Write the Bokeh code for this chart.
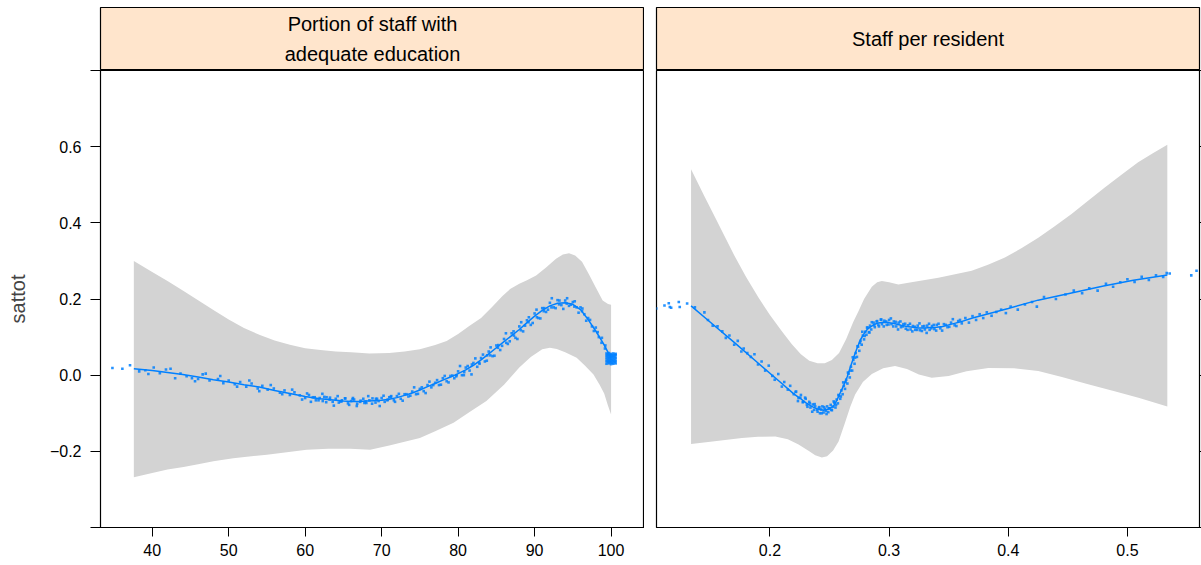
from bokeh.plotting import figure
from bokeh.models import Range1d, FixedTicker, ColumnDataSource, LinearAxis
from bokeh.layouts import column, row
from bokeh.embed import file_html
from bokeh.resources import INLINE
from bokeh.core.properties import value

FONT = "Liberation Sans"
BLUE = "#0080FF"
BAND = "#D3D3D3"
STRIP = "#FFE5CC"

strip_labels = ["Portion of staff with\nadequate education", "Staff per resident"]
y_label = "sattot"
y_ticks = [-0.4, -0.2, 0.0, 0.2, 0.4, 0.6, 0.8]
y_tick_labels = ["", "\u22120.2", "0.0", "0.2", "0.4", "0.6", ""]
x_ticks_edu = [40, 50, 60, 70, 80, 90, 100]
x_ticks_staff = [0.2, 0.3, 0.4, 0.5]

# ---- panel 1: portion of staff with adequate education ----
edu_fit_x = [37.6, 40, 42, 44, 46, 48, 50, 52, 54, 56, 58, 60, 61, 62, 63, 64, 65, 66, 67, 68, 69,
             70, 71, 72, 73, 74, 75, 76, 77, 78, 79, 80, 81, 82, 83, 84, 85, 86, 87, 88, 89, 90,
             91, 92, 93, 94, 95, 96, 97, 98, 99, 100]
edu_fit_y = [0.017, 0.012, 0.007, 0.002, -0.005, -0.012, -0.018, -0.025, -0.031, -0.040, -0.048,
             -0.056, -0.059, -0.062, -0.064, -0.066, -0.068, -0.069, -0.069, -0.068, -0.067,
             -0.066, -0.063, -0.059, -0.053, -0.047, -0.039, -0.030, -0.022, -0.013, -0.005,
             0.004, 0.014, 0.026, 0.040, 0.056, 0.072, 0.088, 0.104, 0.120, 0.138, 0.155, 0.170,
             0.182, 0.189, 0.190, 0.186, 0.172, 0.146, 0.116, 0.083, 0.045]
edu_upper_x = [37.6, 40, 42, 44, 46, 48, 50, 52, 54, 56, 58, 60, 62, 64, 66, 68.4, 71, 73, 75,
               77, 78.5, 80, 81.5, 83, 84.5, 85.8, 86.8, 88, 89, 90.2, 91.5, 92.8, 93.7, 94.5,
               95.3, 96.2, 97.1, 98, 98.9, 99.6, 100]
edu_upper_y = [0.300, 0.271, 0.247, 0.222, 0.197, 0.171, 0.146, 0.124, 0.106, 0.091, 0.080,
               0.071, 0.066, 0.062, 0.060, 0.057, 0.058, 0.062, 0.068, 0.079, 0.090, 0.108,
               0.130, 0.150, 0.180, 0.208, 0.226, 0.240, 0.249, 0.262, 0.283, 0.306, 0.317,
               0.320, 0.314, 0.298, 0.265, 0.230, 0.196, 0.187, 0.185]
edu_lower_x = [37.6, 40, 42, 44.1, 46, 48, 50.6, 55, 60.2, 63, 65.9, 68.5, 71, 73, 75, 77, 79.4,
               81.5, 83.7, 86, 88, 89.5, 91, 92, 92.9, 94, 95.5, 96.6, 97.7, 98.5, 99.1, 99.6, 100]
edu_lower_y = [-0.268, -0.257, -0.248, -0.241, -0.234, -0.226, -0.218, -0.209, -0.196, -0.193,
               -0.193, -0.196, -0.185, -0.175, -0.165, -0.147, -0.125, -0.097, -0.068, -0.025,
               0.020, 0.048, 0.068, 0.072, 0.069, 0.060, 0.046, 0.025, 0.002, -0.025, -0.048,
               -0.080, -0.103]
edu_pts_x = [34.8, 36.1, 37.1,
             38.3, 39.1, 40.2, 41.0, 41.8, 43.0, 43.7, 44.5, 45.2, 46.0, 46.6, 47.5, 48.6, 49.3,
             50.0, 50.8, 51.5, 52.3, 53.0, 53.8, 54.4, 55.1, 55.9, 56.7, 57.3, 58.0, 58.6, 59.3,
             39.5, 42.4, 45.6, 47.0, 48.9, 51.1, 52.7, 54.0, 55.5, 57.0, 58.3, 59.6,
             60.0, 60.5, 61.0, 61.4, 61.9, 62.3, 62.8, 63.2, 63.6, 64.0, 64.4, 64.8, 65.2, 65.6,
             66.0, 66.4, 66.8, 67.2, 67.6, 68.0, 68.4, 68.8, 69.2, 69.6, 70.0, 70.4, 70.8, 71.2,
             71.6, 72.0, 72.5, 73.0, 73.5, 74.0, 74.5, 75.0, 75.5, 76.0,
             76.5, 77.0, 77.5, 78.0, 78.5, 79.0, 79.5, 80.0, 80.5, 81.0, 81.5, 82.0, 82.5, 83.0,
             83.5, 84.0, 84.5, 85.0, 85.5, 86.0, 86.5, 87.0, 87.5, 88.0, 88.5, 89.0, 89.5, 90.0,
             90.5, 91.0, 91.5, 92.0, 92.5, 93.0, 93.5, 94.0, 94.5, 95.0, 95.5, 96.0, 96.5, 97.0,
             97.5, 98.0, 98.4, 98.8, 99.2,
             84.2, 85.2, 86.3, 87.3, 88.2, 89.2, 90.3, 91.2, 92.2, 93.2, 94.2, 95.2, 96.2,
             79.8, 80.8, 81.8, 82.8, 83.8, 62.5, 64.6, 66.2, 67.9, 69.4, 71.0,
             60.25, 60.75, 61.25, 61.75, 62.25, 62.75, 63.25, 63.75, 64.25, 64.75, 65.25, 65.75,
             66.25, 66.75, 67.25, 67.75, 68.25, 68.75, 69.25, 69.75, 70.25, 70.75, 71.25, 71.75,
             72.25, 72.75, 73.25, 73.75, 74.25, 74.75, 75.25, 75.75, 76.25, 76.75, 77.25, 77.75,
             78.25, 78.75, 79.25, 79.75, 80.25, 80.75, 81.25, 81.75, 82.25, 82.75, 83.25, 83.75,
             84.25, 84.75, 85.25, 85.75, 86.25, 86.75, 87.25, 87.75, 88.25, 88.75, 89.25, 89.75,
             90.25, 90.75, 91.25, 91.75, 92.25, 92.75, 93.25, 93.75, 94.25, 94.75, 95.25, 95.75,
             96.25, 96.75, 97.25, 97.75, 98.25, 98.75, 99.25, 99.6,
             99.4, 99.4, 99.4, 99.4, 99.4, 99.7, 99.7, 99.7, 99.7, 99.7, 100.0, 100.0, 100.0,
             100.0, 100.0, 100.3, 100.3, 100.3, 100.3, 100.3, 100.6, 100.6, 100.6, 100.6, 100.6,
             99.55, 99.55, 99.55, 99.55, 99.85, 99.85, 99.85, 99.85, 100.15, 100.15, 100.15,
             100.15, 100.45, 100.45, 100.45, 100.45]
edu_pts_y = [0.019, 0.017, 0.026,
             0.010, 0.013, 0.020, 0.005, 0.015, -0.008, 0.004, -0.003, -0.008, -0.010, 0.002,
             -0.014, -0.010, -0.021, -0.014, -0.024, -0.018, -0.030, -0.022, -0.035, -0.028,
             -0.038, -0.035, -0.046, -0.040, -0.052, -0.045, -0.053,
             0.003, 0.017, -0.016, 0.004, -0.002, -0.030, -0.014, -0.042, -0.026, -0.050, -0.038,
             -0.064,
             -0.060, -0.052, -0.058, -0.066, -0.060, -0.068, -0.058, -0.064, -0.070, -0.062,
             -0.072, -0.066, -0.061, -0.074, -0.068, -0.064, -0.075, -0.070, -0.062, -0.073,
             -0.066, -0.061, -0.072, -0.068, -0.060, -0.070, -0.064, -0.057, -0.066, -0.055,
             -0.062, -0.050, -0.056, -0.043, -0.050, -0.036, -0.042, -0.026,
             -0.032, -0.020, -0.026, -0.008, -0.016, -0.002, -0.008, 0.010, 0.000, 0.020, 0.012,
             0.032, 0.022, 0.045, 0.036, 0.062, 0.050, 0.078, 0.066, 0.095, 0.082, 0.110, 0.098,
             0.128, 0.115, 0.144, 0.132, 0.162, 0.150, 0.176, 0.166, 0.190, 0.178, 0.197, 0.184,
             0.196, 0.182, 0.192, 0.178, 0.178, 0.160, 0.150, 0.128, 0.125, 0.100, 0.098, 0.070,
             0.052, 0.072, 0.085, 0.104, 0.118, 0.139, 0.152, 0.168, 0.178, 0.186, 0.188, 0.180,
             0.168,
             0.000, 0.008, 0.028, 0.030, 0.052, -0.057, -0.069, -0.063, -0.069, -0.062, -0.058,
             -0.048, -0.070, -0.058, -0.066, -0.049, -0.071, -0.059, -0.080, -0.055, -0.069,
             -0.061, -0.078, -0.060, -0.081, -0.067, -0.073, -0.055, -0.075, -0.062, -0.081,
             -0.054, -0.066, -0.055, -0.070, -0.049, -0.067, -0.050, -0.054, -0.032, -0.049,
             -0.032, -0.047, -0.017, -0.026, -0.013, -0.025, -0.002, -0.019, -0.001, -0.003,
             0.024, 0.000, 0.024, 0.002, 0.044, 0.033, 0.054, 0.038, 0.073, 0.051, 0.079, 0.077,
             0.110, 0.089, 0.115, 0.095, 0.139, 0.130, 0.152, 0.137, 0.172, 0.149, 0.176, 0.172,
             0.202, 0.176, 0.196, 0.174, 0.202, 0.185, 0.194, 0.164, 0.175, 0.143, 0.145, 0.116,
             0.113, 0.085, 0.078, 0.056,
             0.030, 0.037, 0.044, 0.051, 0.057, 0.031, 0.038, 0.045, 0.052, 0.058, 0.029, 0.036,
             0.043, 0.050, 0.056, 0.030, 0.037, 0.044, 0.051, 0.057, 0.031, 0.038, 0.045, 0.052,
             0.056,
             0.034, 0.041, 0.048, 0.054, 0.034, 0.041, 0.048, 0.054, 0.033, 0.040, 0.047,
             0.053, 0.034, 0.041, 0.048, 0.054]

# ---- panel 2: staff per resident ----
staff_fit_x = [0.1338, 0.15, 0.17, 0.19, 0.21, 0.22, 0.225, 0.23, 0.235, 0.24, 0.245, 0.25,
               0.2536, 0.256, 0.2592, 0.262, 0.2648, 0.2676, 0.2704, 0.273, 0.276, 0.279, 0.2816,
               0.2845, 0.2872, 0.291, 0.295, 0.30, 0.305, 0.31, 0.315, 0.32, 0.325, 0.33, 0.335,
               0.34, 0.345, 0.35, 0.355, 0.36, 0.37, 0.40, 0.425, 0.455, 0.48, 0.505, 0.5335]
staff_fit_y = [0.182, 0.139, 0.086, 0.032, -0.022, -0.049, -0.060, -0.072, -0.082, -0.089,
               -0.092, -0.088, -0.080, -0.067, -0.045, -0.026, -0.005, 0.022, 0.048, 0.070, 0.093,
               0.109, 0.120, 0.127, 0.133, 0.137, 0.139, 0.138, 0.135, 0.131, 0.128, 0.126, 0.124,
               0.124, 0.125, 0.126, 0.128, 0.132, 0.136, 0.140, 0.150, 0.175, 0.197, 0.217, 0.234,
               0.249, 0.263]
staff_upper_x = [0.1338, 0.145, 0.155, 0.1626, 0.170, 0.180, 0.1905, 0.200, 0.210, 0.2184, 0.226,
                 0.233, 0.240, 0.246, 0.252, 0.258, 0.264, 0.270, 0.2743, 0.279, 0.2855, 0.290,
                 0.2939, 0.300, 0.3078, 0.315, 0.3414, 0.3693, 0.383, 0.3972, 0.411, 0.4252,
                 0.439, 0.4531, 0.467, 0.481, 0.495, 0.509, 0.521, 0.5335]
staff_upper_y = [0.541, 0.470, 0.408, 0.361, 0.315, 0.258, 0.203, 0.158, 0.115, 0.081, 0.055,
                 0.038, 0.031, 0.031, 0.040, 0.058, 0.095, 0.140, 0.168, 0.200, 0.232, 0.244,
                 0.247, 0.244, 0.238, 0.242, 0.256, 0.274, 0.290, 0.309, 0.333, 0.361, 0.391,
                 0.423, 0.458, 0.493, 0.526, 0.559, 0.582, 0.605]
staff_lower_x = [0.1338, 0.150, 0.1765, 0.190, 0.2045, 0.215, 0.224, 0.233, 0.238, 0.2436, 0.248,
                 0.253, 0.2576, 0.263, 0.2675, 0.2715, 0.278, 0.2855, 0.295, 0.305, 0.315, 0.325,
                 0.3358, 0.350, 0.365, 0.3833, 0.405, 0.4252, 0.445, 0.467, 0.490, 0.510, 0.5335]
staff_lower_y = [-0.181, -0.175, -0.165, -0.162, -0.161, -0.168, -0.182, -0.200, -0.210, -0.216,
                 -0.213, -0.198, -0.174, -0.125, -0.082, -0.051, -0.018, 0.003, 0.018, 0.024,
                 0.016, 0.002, -0.007, -0.002, 0.010, 0.019, 0.018, 0.011, -0.005, -0.024,
                 -0.043, -0.060, -0.082]
staff_pts_x = [0.1046, 0.1115, 0.1151, 0.1160, 0.1171, 0.1235, 0.1243, 0.1305,
               0.137, 0.145, 0.148, 0.152, 0.156, 0.160, 0.163, 0.166, 0.170, 0.173, 0.176, 0.178,
               0.181, 0.184, 0.187, 0.190, 0.193, 0.196, 0.199, 0.202, 0.204, 0.207, 0.210, 0.212,
               0.215, 0.217, 0.220,
               0.222, 0.224, 0.226, 0.228, 0.230, 0.231, 0.233, 0.234, 0.236, 0.237, 0.238, 0.240,
               0.241, 0.242, 0.243, 0.244, 0.245, 0.246, 0.247, 0.248, 0.249, 0.250, 0.251, 0.252,
               0.253, 0.254, 0.255, 0.256, 0.257, 0.258, 0.259, 0.260, 0.261, 0.262, 0.263, 0.264,
               0.265, 0.266, 0.267, 0.268, 0.269, 0.270, 0.271, 0.272, 0.273, 0.274, 0.275, 0.276,
               0.277, 0.278, 0.279, 0.280, 0.281, 0.282, 0.283, 0.284, 0.285, 0.287, 0.288, 0.290,
               0.291, 0.293, 0.294, 0.296, 0.298,
               0.300, 0.302, 0.304, 0.306, 0.308, 0.310, 0.312, 0.314, 0.316, 0.318, 0.320, 0.322,
               0.324, 0.326, 0.328, 0.330, 0.332, 0.334, 0.336, 0.338, 0.340, 0.343, 0.346, 0.349,
               0.352, 0.355, 0.358, 0.361,
               0.364, 0.367, 0.370, 0.373, 0.376, 0.379, 0.382, 0.386, 0.390, 0.394, 0.398, 0.402,
               0.408, 0.414, 0.420, 0.424, 0.430, 0.440, 0.448, 0.455, 0.462, 0.468, 0.475, 0.482,
               0.488, 0.494, 0.500, 0.506, 0.512, 0.518, 0.524, 0.530, 0.533,
               0.5355, 0.5536, 0.558,
               0.2215, 0.2235, 0.2255, 0.2275, 0.2295, 0.2315, 0.2335, 0.2355, 0.2375, 0.2395,
               0.2415, 0.2435, 0.2455, 0.2475, 0.2495, 0.2515, 0.2535, 0.2555, 0.2575, 0.2595,
               0.2615, 0.2635, 0.2655, 0.2675, 0.2695, 0.2715, 0.2735, 0.2755, 0.2775, 0.2795,
               0.2815, 0.2835, 0.2855, 0.2875, 0.2895, 0.2915, 0.2935, 0.2955, 0.2975, 0.2995,
               0.3015, 0.3035, 0.3055, 0.3075, 0.3095, 0.3115, 0.3135, 0.3155, 0.3175, 0.3195,
               0.3215, 0.3235, 0.3255, 0.3275, 0.3295, 0.3315, 0.3335, 0.3355, 0.3375, 0.3395,
               0.3415, 0.3445, 0.3475, 0.3505, 0.3535, 0.3565, 0.3595]
staff_pts_y = [0.175, 0.183, 0.189, 0.179, 0.177, 0.192, 0.179, 0.188,
               0.178, 0.165, 0.145, 0.130, 0.128, 0.115, 0.098, 0.104, 0.080, 0.090, 0.062, 0.070,
               0.058, 0.048, 0.055, 0.028, 0.036, 0.012, 0.025, -0.002, -0.012, 0.003, -0.030,
               -0.018, -0.038, -0.028, -0.050,
               -0.043, -0.060, -0.052, -0.070, -0.062, -0.078, -0.070, -0.085, -0.077, -0.091,
               -0.082, -0.096, -0.086, -0.100, -0.090, -0.082, -0.098, -0.089, -0.094, -0.082,
               -0.097, -0.087, -0.078, -0.092, -0.083, -0.072, -0.085, -0.064, -0.074, -0.054,
               -0.062, -0.040, -0.050, -0.028, -0.036, -0.012, -0.022, 0.004, -0.006, 0.022, 0.012,
               0.040, 0.030, 0.058, 0.048, 0.075, 0.064, 0.090, 0.080, 0.104, 0.094, 0.114, 0.106,
               0.125, 0.113, 0.130, 0.120, 0.138, 0.126, 0.142, 0.132, 0.146, 0.134, 0.143, 0.132,
               0.145, 0.134, 0.141, 0.128, 0.138, 0.126, 0.134, 0.122, 0.131, 0.120, 0.129, 0.119,
               0.130, 0.118, 0.128, 0.120, 0.130, 0.119, 0.129, 0.121, 0.132, 0.123, 0.134, 0.126,
               0.138, 0.131, 0.142, 0.136,
               0.150, 0.138, 0.155, 0.145, 0.160, 0.150, 0.165, 0.156, 0.166, 0.172, 0.163, 0.180,
               0.172, 0.186, 0.192, 0.180, 0.205, 0.200, 0.212, 0.222, 0.215, 0.228, 0.222, 0.240,
               0.232, 0.244, 0.252, 0.245, 0.258, 0.250, 0.262, 0.258, 0.268,
               0.267, 0.262, 0.274,
               -0.044, -0.068, -0.059, -0.071, -0.059, -0.083, -0.074, -0.096, -0.076, -0.091,
               -0.084, -0.100, -0.084, -0.102, -0.087, -0.091, -0.069, -0.078, -0.052, -0.056,
               -0.019, -0.018, 0.007, 0.012, 0.047, 0.046, 0.076, 0.085, 0.114, 0.103,
               0.125, 0.112, 0.139, 0.131, 0.141, 0.128, 0.146, 0.128, 0.141, 0.133,
               0.149, 0.128, 0.140, 0.120, 0.141, 0.128, 0.135, 0.119, 0.135, 0.115,
               0.127, 0.119, 0.136, 0.116, 0.129, 0.111, 0.135, 0.123, 0.132, 0.117,
               0.135, 0.117, 0.132, 0.127, 0.147, 0.129, 0.145]

panels = [
    dict(label=strip_labels[0], xr=(33.24, 104.37), xticks=x_ticks_edu,
         fx=edu_fit_x, fy=edu_fit_y, ux=edu_upper_x, uy=edu_upper_y, lx=edu_lower_x, ly=edu_lower_y,
         px=edu_pts_x, py=edu_pts_y),
    dict(label=strip_labels[1], xr=(0.1048, 0.5605), xticks=x_ticks_staff,
         fx=staff_fit_x, fy=staff_fit_y, ux=staff_upper_x, uy=staff_upper_y, lx=staff_lower_x,
         ly=staff_lower_y, px=staff_pts_x, py=staff_pts_y),
]

overrides = {t: l for t, l in zip(y_ticks, y_tick_labels)}

strips = []
mains = []
for i, d in enumerate(panels):
    left_b = 100 if i == 0 else 12
    right_b = 0 if i == 0 else 2
    w = left_b + (544 if i == 0 else 543) + right_b

    s = figure(width=w, height=70, x_range=Range1d(0, 1), y_range=Range1d(0, 1),
               output_backend="svg", toolbar_location=None, min_border_left=left_b,
               min_border_right=right_b, min_border_top=7, min_border_bottom=0)
    s.xaxis.visible = False
    s.yaxis.visible = False
    s.grid.visible = False
    s.background_fill_color = STRIP
    s.outline_line_color = "black"
    s.outline_line_width = 1.2
    src = ColumnDataSource(dict(x=[0.5], y=[0.5], t=[d["label"]]))
    s.text(x="x", y="y", text="t", source=src, text_align="center", text_baseline="middle",
           text_font=value(FONT), text_font_size="20px", text_color="black", text_line_height=1.4)
    strips.append(s)

    p = figure(width=w, height=495, x_range=Range1d(*d["xr"]), y_range=Range1d(-0.4, 0.8),
               output_backend="svg", toolbar_location=None, min_border_left=left_b,
               min_border_right=right_b, min_border_top=0, min_border_bottom=38,
               x_axis_location="below", y_axis_location=None)
    p.grid.visible = False
    p.outline_line_color = "black"
    p.outline_line_width = 1.2
    p.background_fill_color = "white"

    bx = list(d["ux"]) + list(reversed(d["lx"]))
    by = list(d["uy"]) + list(reversed(d["ly"]))
    p.patch(bx, by, fill_color=BAND, line_color=None)
    p.line(d["fx"], d["fy"], line_color=BLUE, line_width=1.5)
    p.scatter(d["px"], d["py"], marker="square", size=2.6, fill_color=BLUE, line_color=None,
              fill_alpha=0.85)

    xa = p.xaxis[0]
    xa.ticker = FixedTicker(ticks=d["xticks"])
    xa.minor_tick_line_color = None
    xa.major_tick_in = 0
    xa.major_tick_out = 9
    xa.major_label_standoff = 7
    xa.major_label_text_font = FONT
    xa.major_label_text_font_size = "16px"
    xa.major_label_text_color = "black"
    xa.axis_line_color = "black"
    xa.major_tick_line_color = "black"

    if i == 0:
        ya = LinearAxis(ticker=FixedTicker(ticks=y_ticks), major_label_overrides=overrides)
        ya.axis_label = y_label
        ya.axis_label_text_font = FONT
        ya.axis_label_text_font_size = "20px"
        ya.axis_label_text_font_style = "normal"
        ya.axis_label_standoff = 18
        ya.minor_tick_line_color = None
        ya.major_tick_in = 0
        ya.major_tick_out = 10
        ya.major_label_standoff = 9
        ya.major_label_text_font = FONT
        ya.major_label_text_font_size = "16px"
        ya.major_label_text_color = "black"
        p.add_layout(ya, "left")
    else:
        ya = LinearAxis(ticker=FixedTicker(ticks=y_ticks),
                        major_label_overrides={t: "" for t in y_ticks})
        ya.minor_tick_line_color = None
        ya.major_tick_in = 0
        ya.major_tick_out = 2
        ya.major_label_standoff = 0
        ya.major_label_text_font_size = "1px"
        p.add_layout(ya, "right")
    mains.append(p)

layout = column(row(strips[0], strips[1]), row(mains[0], mains[1]))
open("out.html", "w").write(file_html(layout, INLINE))
